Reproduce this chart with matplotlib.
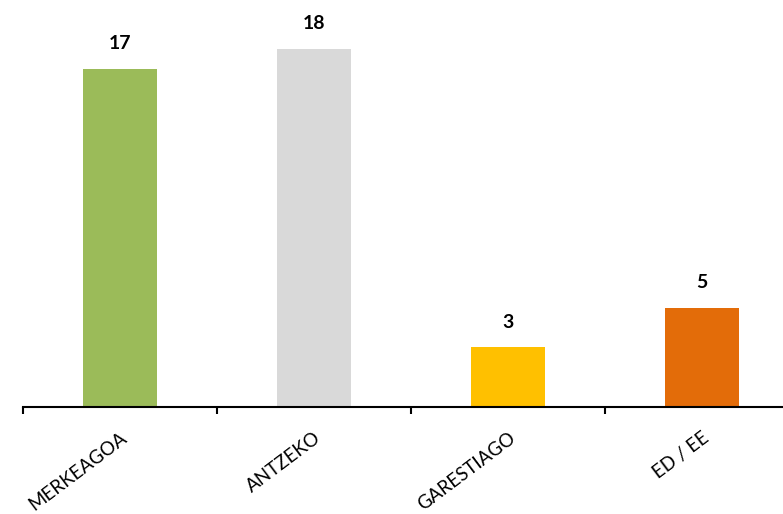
import matplotlib.pyplot as plt

categories = ['MERKEAGOA', 'ANTZEKO', 'GARESTIAGO', 'ED / EE']
values = [17, 18, 3, 5]
colors = ['#9BBB59', '#D9D9D9', '#FFC000', '#E36C09']

plt.rcParams['font.family'] = ['Lato', 'DejaVu Sans']

fig = plt.figure(figsize=(7.83, 5.14), dpi=100)
ax = fig.add_axes([23 / 783, 107 / 514, 776 / 783, 398 / 514])

x = range(len(categories))
bars = ax.bar(x, values, width=0.38, color=colors)
for xi, v in zip(x, values):
    ax.annotate(str(v), (xi, v), xytext=(0, 12), textcoords='offset points',
                ha='center', va='bottom', fontsize=14, fontweight='bold')

ax.set_xlim(-0.5, 3.5)
ax.set_ylim(0, 20)
ax.set_xticks([i - 0.5 for i in range(5)], minor=False)
ax.set_xticklabels([])
ax.tick_params(axis='x', direction='out', length=5, width=1.5, color='black')
ax.set_xticks(list(x), minor=True)
ax.set_xticklabels(categories, minor=True, rotation=37, ha='right',
                   rotation_mode='anchor', fontsize=13.5)
ax.tick_params(axis='x', which='minor', length=0, pad=16)
ax.set_yticks([])
for s in ['top', 'right', 'left']:
    ax.spines[s].set_visible(False)
ax.spines['bottom'].set_linewidth(1.5)

fig.savefig('out.png', dpi=100)
